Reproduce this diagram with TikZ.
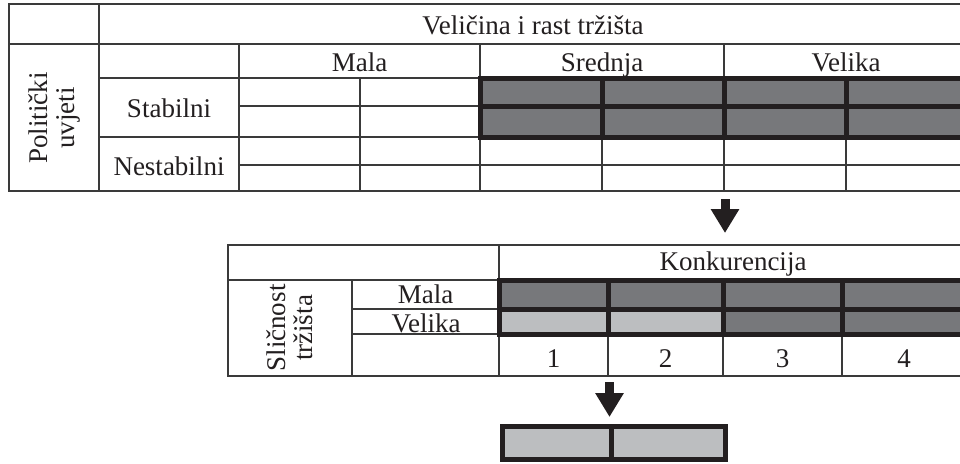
\documentclass[tikz,border=0pt]{standalone}
\usepackage{fontspec}
\setmainfont{Liberation Serif}
\usetikzlibrary{arrows.meta}
\definecolor{ink}{HTML}{231F20}
\definecolor{dk}{HTML}{77787B}
\definecolor{lt}{HTML}{BCBEC0}
\definecolor{thin}{HTML}{3A3A3A}
\tikzset{
  thinline/.style={draw=thin, line width=1.2pt},
  thickline/.style={draw=ink, line width=5pt},
  lbl/.style={font=\fontsize{27}{27}\selectfont, text=ink, inner sep=0pt, anchor=base},
  vlbl/.style={font=\fontsize{27}{27}\selectfont, text=ink, inner sep=0pt, rotate=90, align=center, anchor=center},
  bigarrow/.style={draw=ink, line width=9pt, -{Triangle[width=27pt,length=24pt]}}
}
\begin{document}
\begin{tikzpicture}[x=1pt,y=-1pt]
\useasboundingbox (0,0) rectangle (960,463);
\fill[white] (0,0) rectangle (960,463);
\clip (0,0) rectangle (960,463);

% ---------- top table ----------
\fill[dk] (480,78) rectangle (968,137);
\draw[thinline] (9,4) rectangle (968,191);
\draw[thinline] (9,44) -- (968,44);
\draw[thinline] (99,4) -- (99,191);
\draw[thinline] (99,78) -- (968,78);
\draw[thinline] (99,137) -- (968,137);
\draw[thinline] (239,106) -- (968,106);
\draw[thinline] (239,165) -- (968,165);
\draw[thinline] (239,44) -- (239,191);
\draw[thinline] (480,44) -- (480,191);
\draw[thinline] (724,44) -- (724,191);
\foreach \x in {360,602,846} \draw[thinline] (\x,78) -- (\x,191);
% thick shaded block
\draw[thickline] (480,78) rectangle (968,137);
\draw[thickline] (480,106) -- (968,106);
\foreach \x in {602,724,846} \draw[thickline] (\x,78) -- (\x,137);

\node[lbl] (hdr1) at (533,34) {Veličina i rast tržišta};
\node[lbl] (mala1) at (359.5,71) {Mala};
\node[lbl] (sred1) at (602,71) {Srednja};
\node[lbl] (vel1) at (846,71) {Velika};
\node[lbl] (stab) at (169,117) {Stabilni};
\node[lbl] (nestab) at (169,175) {Nestabilni};
\node[vlbl] (polit) at (54,118) {Politički\\uvjeti};

% ---------- arrow 1 ----------
\coordinate (a1s) at (725,199);
\coordinate (a1e) at (725,233);
\draw[bigarrow] (a1s) -- (a1e);

% ---------- second table ----------
\fill[dk] (499,280) rectangle (966,309);
\fill[lt] (499,309) rectangle (723,334);
\fill[dk] (723,309) rectangle (966,334);
\draw[thinline] (228,245) rectangle (966,376);
\draw[thinline] (499,245) -- (499,376);
\draw[thinline] (228,280) -- (966,280);
\draw[thinline] (352,280) -- (352,376);
\draw[thinline] (352,309) -- (966,309);
\draw[thinline] (352,334) -- (966,334);
\foreach \x in {608,723,842} \draw[thinline] (\x,280) -- (\x,376);
\draw[thickline] (499,280) rectangle (966,334);
\draw[thickline] (499,309) -- (966,309);
\foreach \x in {608,723,842} \draw[thickline] (\x,280) -- (\x,334);

\node[lbl] (konk) at (733,270) {Konkurencija};
\node[lbl] (mala2) at (425.5,303) {Mala};
\node[lbl] (vel2) at (426,332) {Velika};
\node[lbl] (n1) at (553.5,367) {1};
\node[lbl] (n2) at (665.5,367) {2};
\node[lbl] (n3) at (782.5,367) {3};
\node[lbl] (n4) at (904,367) {4};
\node[vlbl] (slic) at (290,328) {Sličnost\\tržišta};

% ---------- arrow 2 ----------
\coordinate (a2s) at (609.5,382);
\coordinate (a2e) at (609.5,417);
\draw[bigarrow] (a2s) -- (a2e);

% ---------- bottom box ----------
\fill[lt] (502.5,426.5) rectangle (725.5,459.5);
\draw[thickline] (502.5,426.5) rectangle (725.5,459.5);
\draw[thickline] (611,426.5) -- (611,459.5);
\end{tikzpicture}
\end{document}
